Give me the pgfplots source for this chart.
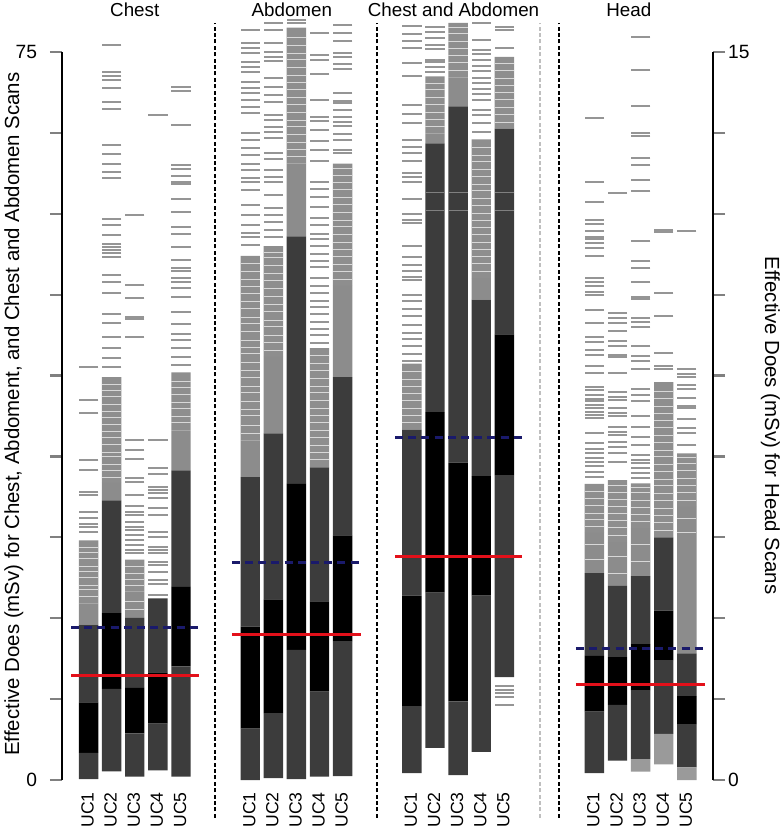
\documentclass[border=0pt]{standalone}
\usepackage{fontspec}
\setmainfont{Liberation Sans}
\usepackage{pgfplots}
\usepackage{pgfplotstable}
\pgfplotsset{compat=1.18}

\definecolor{dg}{HTML}{3C3C3C}
\definecolor{mid}{HTML}{8C8C8C}
\definecolor{streak}{HTML}{8E8E8E}
\definecolor{lg}{HTML}{9A9A9A}
\definecolor{dash}{HTML}{959595}
\definecolor{gapc}{HTML}{D8D8D8}
\definecolor{refred}{HTML}{E3101A}
\definecolor{refblue}{HTML}{1A1A6B}

% column tops of each layer: b0 blank base, b1 light, b2 dark, b3 black, b4 dark, b5 mid, b6 streaks
\pgfplotstableread{
x  b0   b1   b2   b3   b4   b5   b6
1  0.1  0.1  2.8  8.0  16.0 18.2 24.7
2  0.9  0.9  9.4  17.2 28.8 30.6 41.5
3  0.35 0.35 4.8  9.5  16.7 19.4 22.7
4  1.0  1.0  5.8  11.1 18.7 18.7 18.7
5  0.35 0.35 11.7 19.9 31.9 36.0 42.0
8  0    0    5.3  15.8 31.2 35.0 54.0
9  0.2  0.2  6.9  18.6 35.7 43.6 55.0
10 0.1  0.1  13.4 30.5 56.0 63.5 77.5
11 0.35 0.35 9.1  18.4 32.2 32.2 44.5
12 0.4  0.4  14.3 25.2 41.5 50.9 63.5
15 0.7  0.7  7.6  19.0 36.1 36.1 42.9
16 3.3  3.3  19.3 37.9 65.6 66.6 72.5
17 0.5  0.5  8.1  32.7 69.4 72.4 78.0
18 2.9  2.9  19.0 31.3 49.5 51.7 66.0
19 10.6 10.6 31.4 45.9 67.1 67.1 74.5
}\bodybars

\pgfplotstableread{
x    b0   b1   b2   b3   b4   b5   b6
22.9 0.14 0.14 1.41 2.56 4.26 5.09 6.10
23.9 0.40 0.40 1.55 2.53 4.00 4.90 6.18
24.9 0.17 0.43 1.85 2.80 4.20 5.19 6.11
25.9 0.32 0.95 2.47 3.49 5.00 5.00 8.20
26.9 0    0.26 1.15 1.73 2.61 5.63 6.73
}\headbars

% single scans shown as short grey dashes
\pgfplotstableread{
x y
1 25.6
1 26.1
1 26.4
1 27.0
1 27.6
1 29.4
1 29.7
1 31.9
1 33.0
1 37.8
1 39.2
1 42.6
2 42.5
2 43.5
2 44.5
2 45.6
2 47.1
2 48.0
2 50.2
2 51.3
2 52.0
2 53.9
2 54.3
2 54.6
2 54.9
2 55.2
2 56.1
2 57.2
2 57.8
2 62.0
2 62.6
2 63.5
2 64.5
2 65.4
2 69.1
2 69.8
2 71.3
2 72.1
2 72.5
2 72.9
2 75.7
3 23.4
3 23.7
3 24.2
3 24.7
3 25.2
3 25.8
3 26.1
3 26.6
3 27.3
3 27.6
3 28.2
3 29.4
3 30.7
3 31.1
3 33.1
3 34.0
3 35.0
3 45.6
3 47.5
3 47.7
3 49.7
3 51.0
3 58.2
4 19.1
4 20.2
4 20.6
4 21.4
4 22.2
4 22.5
4 23.4
4 23.7
4 24.0
4 25.0
4 25.6
4 27.3
4 28.0
4 29.1
4 29.6
4 29.9
4 30.2
4 31.5
4 32.1
4 35.0
4 68.5
5 42.8
5 43.6
5 44.5
5 45.3
5 46.0
5 47.0
5 48.2
5 49.8
5 50.7
5 51.3
5 51.7
5 52.4
5 52.7
5 53.6
5 54.9
5 56.2
5 57.0
5 58.5
5 59.9
5 61.4
5 61.6
5 62.2
5 62.9
5 63.4
5 67.5
5 71.0
5 71.4
8 55.1
8 55.9
8 56.4
8 57.2
8 58.2
8 59.2
8 60.8
8 61.6
8 62.0
8 62.8
8 63.5
8 64.4
8 65.1
8 65.9
8 66.7
8 68.7
8 69.3
8 70.1
8 70.8
8 71.3
8 71.9
8 72.9
8 73.5
8 74.0
8 74.9
8 75.4
8 75.9
8 77.3
9 55.9
9 56.7
9 57.5
9 58.2
9 58.9
9 60.3
9 61.6
9 62.1
9 62.8
9 64.0
9 64.6
9 66.1
9 66.8
9 67.3
9 68.0
9 68.5
9 69.9
9 70.6
9 71.4
9 72.3
9 74.1
9 74.5
9 75.0
9 75.9
9 77.3
9 78.0
10 78.0
10 78.3
11 45.0
11 45.8
11 46.5
11 47.2
11 48.0
11 48.7
11 49.4
11 50.2
11 50.9
11 51.7
11 52.8
11 53.5
11 54.2
11 55.0
11 55.7
11 56.3
11 57.2
11 57.9
11 59.0
11 60.1
11 60.9
11 61.6
11 63.8
11 64.9
11 65.8
11 67.0
11 67.9
11 68.3
11 70.1
11 72.7
11 74.2
11 74.7
11 77.0
12 64.6
12 64.9
12 65.9
12 66.6
12 67.4
12 67.8
12 68.3
12 69.0
12 69.7
12 70.0
12 70.8
12 73.3
12 73.8
12 74.5
12 74.9
12 76.1
12 77.0
12 77.8
15 43.2
15 43.9
15 44.7
15 45.4
15 46.1
15 46.9
15 47.8
15 48.5
15 49.4
15 50.0
15 51.5
15 51.8
15 52.4
15 53.1
15 53.9
15 55.0
15 57.4
15 57.7
15 58.3
15 59.9
15 61.6
15 62.1
15 62.5
15 63.8
15 64.6
15 65.2
15 65.9
15 67.7
15 68.6
15 69.5
15 72.5
15 73.9
15 75.4
15 76.1
15 76.9
15 77.7
16 72.9
16 73.5
16 74.0
16 74.2
16 75.3
16 75.7
16 76.4
16 77.1
16 77.6
18 66.8
18 67.7
18 68.5
18 69.0
18 70.1
18 70.7
18 71.2
18 71.8
18 72.3
18 73.0
18 73.6
18 74.2
18 74.8
18 75.2
18 76.2
18 78.0
19 75.4
19 77.3
19 77.6
19 9.7
19 9.3
19 9.0
19 8.6
19 7.7
}\bodydashes

% light gaps between densely packed scans
\pgfplotstableread{
x y
1 18.9
1 19.6
1 20.1
1 20.9
1 21.5
1 22.0
1 22.8
1 23.4
1 24.0
2 31.2
2 31.9
2 32.5
2 33.3
2 33.8
2 34.6
2 35.3
2 35.9
2 36.6
2 37.4
2 38.0
2 38.7
2 39.5
2 40.1
2 40.8
3 17.6
3 18.4
3 20.0
3 20.7
3 21.3
3 22.0
5 36.8
5 37.5
5 38.3
5 38.9
5 39.7
5 40.4
5 41.1
8 35.7
8 36.5
8 37.6
8 38.2
8 39.0
8 39.9
8 40.6
8 41.5
8 42.2
8 43.0
8 43.9
8 44.6
8 45.3
8 46.2
8 47.0
8 47.7
8 48.6
8 49.3
8 50.1
8 50.9
8 51.6
8 52.4
8 53.2
9 44.3
9 45.1
9 45.8
9 46.7
9 47.4
9 48.3
9 49.0
9 49.8
9 50.6
9 51.5
9 52.2
9 53.0
9 53.8
9 54.4
10 64.2
10 65.0
10 65.7
10 66.5
10 67.3
10 68.0
10 68.8
10 69.6
10 70.3
10 71.1
10 71.9
10 72.6
10 73.4
10 74.2
10 74.9
10 75.7
10 76.5
11 33.0
11 33.7
11 34.5
11 35.3
11 36.0
11 36.8
11 37.6
11 38.3
11 39.1
11 39.9
11 40.6
11 41.4
11 42.2
11 42.9
11 43.7
12 51.6
12 52.4
12 53.1
12 53.9
12 54.7
12 55.4
12 56.2
12 57.0
12 57.7
12 58.5
12 59.3
12 60.0
12 60.8
12 61.6
12 62.3
12 63.0
15 36.8
15 37.6
15 38.3
15 39.1
15 39.8
15 40.6
15 41.3
15 42.1
16 67.3
16 68.1
16 68.8
16 69.6
16 70.3
16 71.1
16 71.8
17 73.1
17 73.9
17 74.6
17 75.4
17 76.1
17 76.9
17 77.5
18 52.4
18 53.2
18 53.9
18 54.7
18 55.4
18 56.2
18 56.9
18 57.7
18 58.4
18 59.2
18 59.9
18 60.7
18 61.4
18 62.2
18 62.9
18 63.7
18 64.4
18 65.2
19 67.8
19 68.6
19 69.3
19 70.1
19 70.8
19 71.6
19 72.3
19 73.1
19 73.8
}\bodygaps

% faint seams inside the dark strips
\pgfplotstableread{
x y
16 58.7
16 60.5
17 58.7
17 60.5
19 58.7
19 60.5
}\bodyseams

\pgfplotstableread{
x y
22.9 6.25
22.9 6.35
22.9 6.46
22.9 6.56
22.9 6.63
22.9 6.73
22.9 6.83
22.9 6.94
22.9 7.14
22.9 7.45
22.9 7.52
22.9 7.59
22.9 7.66
22.9 7.73
22.9 7.80
22.9 7.86
22.9 7.93
22.9 8.04
22.9 8.10
22.9 8.38
22.9 8.53
22.9 8.76
22.9 8.86
22.9 9.03
22.9 9.13
22.9 9.41
22.9 9.68
22.9 10.00
22.9 10.06
22.9 10.17
22.9 10.27
22.9 10.34
22.9 10.80
22.9 10.96
22.9 11.07
22.9 11.14
22.9 11.19
22.9 11.32
22.9 11.46
22.9 11.54
22.9 11.90
22.9 12.32
22.9 13.65
23.9 6.56
23.9 6.73
23.9 6.87
23.9 6.97
23.9 7.11
23.9 7.18
23.9 7.28
23.9 7.49
23.9 7.56
23.9 7.66
23.9 7.83
23.9 7.90
23.9 8.00
23.9 8.38
23.9 8.71
23.9 8.76
23.9 8.94
23.9 9.05
23.9 9.26
23.9 9.41
23.9 9.51
23.9 9.62
23.9 12.09
24.9 6.22
24.9 6.32
24.9 6.42
24.9 6.53
24.9 6.59
24.9 6.70
24.9 6.90
24.9 7.07
24.9 7.28
24.9 7.49
24.9 7.80
24.9 7.93
24.9 8.05
24.9 8.46
24.9 8.63
24.9 8.74
24.9 8.95
24.9 9.34
24.9 9.44
24.9 9.51
24.9 9.91
24.9 9.96
24.9 10.27
24.9 10.54
24.9 10.70
24.9 11.11
24.9 12.13
24.9 12.36
24.9 12.67
24.9 12.82
24.9 13.27
24.9 13.34
24.9 13.89
24.9 14.62
24.9 15.30
25.9 8.46
25.9 8.53
25.9 8.79
25.9 9.57
25.9 10.03
25.9 11.29
25.9 11.33
26.9 6.90
26.9 7.14
26.9 7.25
26.9 7.43
26.9 7.66
26.9 7.71
26.9 7.87
26.9 8.06
26.9 8.14
26.9 8.31
26.9 8.37
26.9 8.46
26.9 11.32
}\headdashes

\pgfplotstableread{
x y
22.9 4.55
22.9 4.85
22.9 5.22
22.9 5.37
22.9 5.50
22.9 5.66
22.9 5.80
22.9 5.95
23.9 4.25
23.9 4.60
23.9 5.04
23.9 5.20
23.9 5.34
23.9 5.49
23.9 5.63
23.9 5.78
23.9 5.93
23.9 6.06
24.9 4.50
24.9 4.85
24.9 5.33
24.9 5.48
24.9 5.62
24.9 5.77
24.9 5.92
24.9 6.03
25.9 5.15
25.9 5.30
25.9 5.45
25.9 5.60
25.9 5.76
25.9 5.90
25.9 6.06
25.9 6.20
25.9 6.36
25.9 6.50
25.9 6.66
25.9 6.80
25.9 6.96
25.9 7.10
25.9 7.26
25.9 7.40
25.9 7.56
25.9 7.70
25.9 7.86
25.9 8.00
26.9 5.10
26.9 5.40
26.9 5.77
26.9 5.92
26.9 6.07
26.9 6.22
26.9 6.37
26.9 6.52
26.9 6.65
}\headgaps

\pgfplotsset{
  panel/.style={at={(0,0)}, anchor=south west, scale only axis,
    width=325.5pt, height=364pt, xmin=-0.15, xmax=28.035, ymin=0,
    clip=false, enlargelimits=false},
  deco/.style={panel, tick align=outside, major tick length=6pt,
    tick label style={font=\fontsize{9.6}{11}\selectfont},
    y axis line style={line width=1.1pt}, ytick style={line width=1.1pt}},
  stack/.style={panel, hide axis, ybar stacked, bar width=0.84},
  dashmark/.style={only marks, mark=-, mark size=4.85pt,
    mark options={draw=dash, line width=1pt}},
  gapmark/.style={only marks, mark=-, mark size=4.85pt,
    mark options={draw=gapc, line width=0.4pt}},
  seammark/.style={only marks, mark=-, mark size=4.85pt,
    mark options={draw=gray, line width=0.4pt}},
  sep/.style={black, line width=1.1pt, dash pattern=on 2pt off 1.2pt},
  redline/.style={refred, line width=1.5pt},
  blueline/.style={refblue, line width=1.3pt, dash pattern=on 4pt off 2.6pt},
}

\begin{document}
\begin{tikzpicture}
\path[use as bounding box] (-31pt,-23pt) rectangle (359pt,390pt);

% stacked strips, body scans (0-75 scale)
\begin{axis}[stack, ymax=75]
  \addplot[draw=none, fill=none] table[x=x, y=b0] {\bodybars};
  \addplot[draw=none, fill=lg]     table[x=x, y expr=\thisrow{b1}-\thisrow{b0}] {\bodybars};
  \addplot[draw=none, fill=dg]     table[x=x, y expr=\thisrow{b2}-\thisrow{b1}] {\bodybars};
  \addplot[draw=none, fill=black]  table[x=x, y expr=\thisrow{b3}-\thisrow{b2}] {\bodybars};
  \addplot[draw=none, fill=dg]     table[x=x, y expr=\thisrow{b4}-\thisrow{b3}] {\bodybars};
  \addplot[draw=none, fill=mid]    table[x=x, y expr=\thisrow{b5}-\thisrow{b4}] {\bodybars};
  \addplot[draw=none, fill=streak] table[x=x, y expr=\thisrow{b6}-\thisrow{b5}] {\bodybars};
\end{axis}

% stacked strips, head scans (0-15 scale)
\begin{axis}[stack, ymax=15]
  \addplot[draw=none, fill=none] table[x=x, y=b0] {\headbars};
  \addplot[draw=none, fill=lg]     table[x=x, y expr=\thisrow{b1}-\thisrow{b0}] {\headbars};
  \addplot[draw=none, fill=dg]     table[x=x, y expr=\thisrow{b2}-\thisrow{b1}] {\headbars};
  \addplot[draw=none, fill=black]  table[x=x, y expr=\thisrow{b3}-\thisrow{b2}] {\headbars};
  \addplot[draw=none, fill=dg]     table[x=x, y expr=\thisrow{b4}-\thisrow{b3}] {\headbars};
  \addplot[draw=none, fill=mid]    table[x=x, y expr=\thisrow{b5}-\thisrow{b4}] {\headbars};
  \addplot[draw=none, fill=streak] table[x=x, y expr=\thisrow{b6}-\thisrow{b5}] {\headbars};
\end{axis}

\begin{axis}[deco, ymax=75,
    axis y line*=left, axis x line*=bottom,
    x axis line style={draw=none}, xtick style={draw=none},
    xtick={1,2,3,4,5,8,9,10,11,12,15,16,17,18,19,22.9,23.9,24.9,25.9,26.9},
    xticklabels={UC1,UC2,UC3,UC4,UC5,UC1,UC2,UC3,UC4,UC5,UC1,UC2,UC3,UC4,UC5,UC1,UC2,UC3,UC4,UC5},
    x tick label style={rotate=90, anchor=east, inner sep=0pt,
      font=\fontsize{8.8}{10}\selectfont, yshift=0.5pt},
    y tick label style={xshift=-3pt},
    ytick={0,8.3333,16.6667,25,33.3333,41.6667,50,58.3333,66.6667,75},
    yticklabels={0,,,,,,,,,75}]
  \addplot[gapmark] table[x=x, y=y] {\bodygaps};
  \addplot[seammark] table[x=x, y=y] {\bodyseams};
  \addplot[dashmark] table[x=x, y=y] {\bodydashes};

  % separators
  \addplot[sep] coordinates {(6.48,-3.9) (6.48,78)};
  \addplot[sep] coordinates {(13.49,-3.9) (13.49,78)};
  \addplot[sep, black!25] coordinates {(20.54,-3.9) (20.54,78)};
  \addplot[sep] coordinates {(21.37,-3.9) (21.37,78)};

  % reference levels
  \addplot[blueline] coordinates {(0.24,15.7) (5.78,15.7)};
  \addplot[redline]  coordinates {(0.24,10.75) (5.78,10.75)};
  \addplot[blueline] coordinates {(7.2,22.4) (12.8,22.4)};
  \addplot[redline]  coordinates {(7.2,15.0) (12.8,15.0)};
  \addplot[blueline] coordinates {(14.27,35.3) (19.77,35.3)};
  \addplot[redline]  coordinates {(14.27,23.0) (19.77,23.0)};

  \begin{scope}[every node/.style={font=\fontsize{9.4}{11}\selectfont, anchor=base}]
    \node at (axis cs:3.0,78.7) {Chest};
    \node at (axis cs:9.8,78.7) {Abdomen};
    \node at (axis cs:16.8,78.7) {Chest and Abdomen};
    \node at (axis cs:24.39,78.7) {Head};
  \end{scope}
  \node[rotate=90, font=\fontsize{10.2}{12}\selectfont] at (axis cs:-2.23,37.7)
    {Effective Does (mSv) for Chest, Abdoment, and Chest and Abdomen Scans};
  \node[rotate=-90, font=\fontsize{10.2}{12}\selectfont] at (axis cs:30.52,36.5)
    {Effective Does (mSv) for Head Scans};
\end{axis}

\begin{axis}[deco, ymax=15,
    axis y line*=right, axis x line=none,
    y tick label style={xshift=-2pt},
    ytick={0,1.66667,3.33333,5,6.66667,8.33333,10,11.66667,13.33333,15},
    yticklabels={0,,,,,,,,,15}]
  \addplot[gapmark] table[x=x, y=y] {\headgaps};
  \addplot[dashmark] table[x=x, y=y] {\headdashes};
  \addplot[blueline] coordinates {(22.1,2.71) (27.7,2.71)};
  \addplot[redline]  coordinates {(22.1,1.97) (27.7,1.97)};
\end{axis}
\end{tikzpicture}
\end{document}
